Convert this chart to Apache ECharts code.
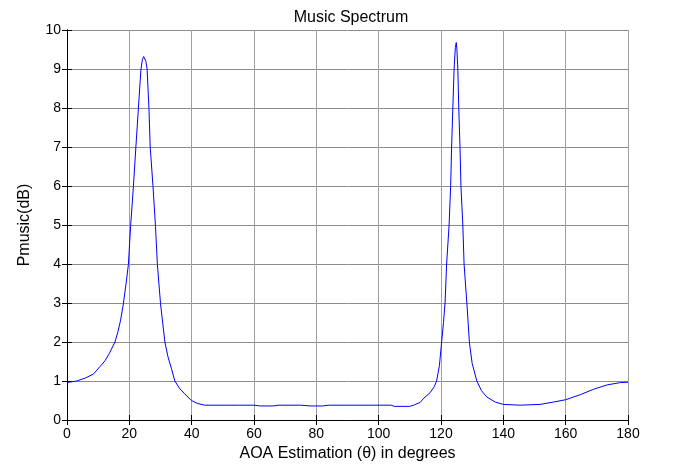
<!DOCTYPE html>
<html>
<head>
<meta charset="utf-8">
<script src="https://cdn.jsdelivr.net/npm/echarts@6/dist/echarts.min.js"></script>
<style>html,body{margin:0;padding:0;background:#fff}#c{width:674px;height:466px}</style>
</head>
<body>
<div id="c"></div>
<script>
var angles = [0,3.1,6,8.5,10.6,12.2,13.6,15.4,16.3,17.2,18.1,19.1,19.7,20.4,21.3,22.1,22.9,23.7,24.2,24.6,25.0,25.3,25.7,26.3,26.7,27.6,28.4,29.0,30.0,31.4,32.4,33.5,34.6,36.2,37.8,39.9,42,44.2,50,55,60,62,66,68,75,78,82,84,95,104,105,110,111.5,113.3,114.5,116.5,117.8,118.6,119.5,120.2,120.8,121.3,121.8,122.6,123.1,123.4,123.8,124.2,124.6,124.9,125.1,125.4,125.7,126.1,126.4,127.0,127.4,128.3,129.1,130.0,131.5,133.0,134.7,137.4,140,145.4,151.8,156.1,160,164.7,169,173.3,177.6,180];
var pmusic = [0.96,1.0,1.08,1.18,1.37,1.52,1.71,2.0,2.25,2.56,2.99,3.59,3.99,4.96,5.98,7.0,7.98,8.97,9.25,9.32,9.31,9.2,9.0,7.98,7.0,5.98,4.96,3.99,2.99,2.0,1.62,1.32,1.0,0.8,0.67,0.5,0.42,0.38,0.38,0.38,0.38,0.36,0.36,0.38,0.38,0.36,0.36,0.38,0.38,0.38,0.35,0.35,0.39,0.45,0.56,0.70,0.85,1.0,1.4,2.0,2.5,3.0,4.0,5.0,6.0,7.0,8.0,9.0,9.55,9.68,9.5,9.0,8.0,7.0,6.0,5.0,4.0,3.0,2.0,1.45,1.0,0.75,0.59,0.46,0.40,0.38,0.40,0.46,0.52,0.65,0.79,0.90,0.96,0.97];
var xTicks = [0,20,40,60,80,100,120,140,160,180];
var yTicks = [0,1,2,3,4,5,6,7,8,9,10];

var font = 'Liberation Sans, Arial, sans-serif';
var chart = echarts.init(document.getElementById('c'));
var data = angles.map(function(a,i){return [a,pmusic[i]];});
var axisLineStyle = {show:true, lineStyle:{color:'#000', width:1}};
chart.setOption({
  animation:false,
  backgroundColor:'#fff',
  title:{text:'Music Spectrum', left:346, textAlign:'center', top:5,
    textStyle:{fontFamily:font, fontSize:16, fontWeight:'normal', color:'#000'}},
  grid:{left:67, right:46, top:30, bottom:46, containLabel:false, outerBoundsMode:'none'},
  xAxis:[{
    type:'value', min:xTicks[0], max:xTicks[xTicks.length-1], interval:20,
    name:'AOA Estimation (\u03b8) in degrees', nameLocation:'middle', nameGap:18,
    nameTextStyle:{fontFamily:font, fontSize:16, color:'#000'},
    axisLine:axisLineStyle,
    axisTick:{show:true, inside:true, length:5, lineStyle:{color:'#000'}},
    axisLabel:{fontFamily:font, fontSize:14, color:'#000', margin:7},
    splitLine:{show:true, lineStyle:{color:'#a0a0a0', width:1}}
  },{
    type:'value', position:'top', min:xTicks[0], max:xTicks[xTicks.length-1], interval:20,
    axisLine:axisLineStyle,
    axisTick:{show:true, inside:true, length:5, lineStyle:{color:'#000'}},
    axisLabel:{show:false}, splitLine:{show:false}
  }],
  yAxis:[{
    type:'value', min:yTicks[0], max:yTicks[yTicks.length-1], interval:1,
    name:'Pmusic(dB)', nameLocation:'middle', nameGap:34,
    nameTextStyle:{fontFamily:font, fontSize:16, color:'#000'},
    axisLine:axisLineStyle,
    axisTick:{show:true, inside:true, length:5, lineStyle:{color:'#000'}},
    axisLabel:{fontFamily:font, fontSize:14, color:'#000', margin:6},
    splitLine:{show:true, lineStyle:{color:'#8c8c8c', width:1}}
  },{
    type:'value', position:'right', min:yTicks[0], max:yTicks[yTicks.length-1], interval:1,
    axisLine:axisLineStyle,
    axisTick:{show:true, inside:true, length:5, lineStyle:{color:'#000'}},
    axisLabel:{show:false}, splitLine:{show:false}
  }],
  series:[{
    type:'line', data:data, xAxisIndex:0, yAxisIndex:0,
    showSymbol:false, symbol:'none', smooth:false,
    lineStyle:{color:'#0000ff', width:1}
  }]
});
</script>
</body>
</html>
